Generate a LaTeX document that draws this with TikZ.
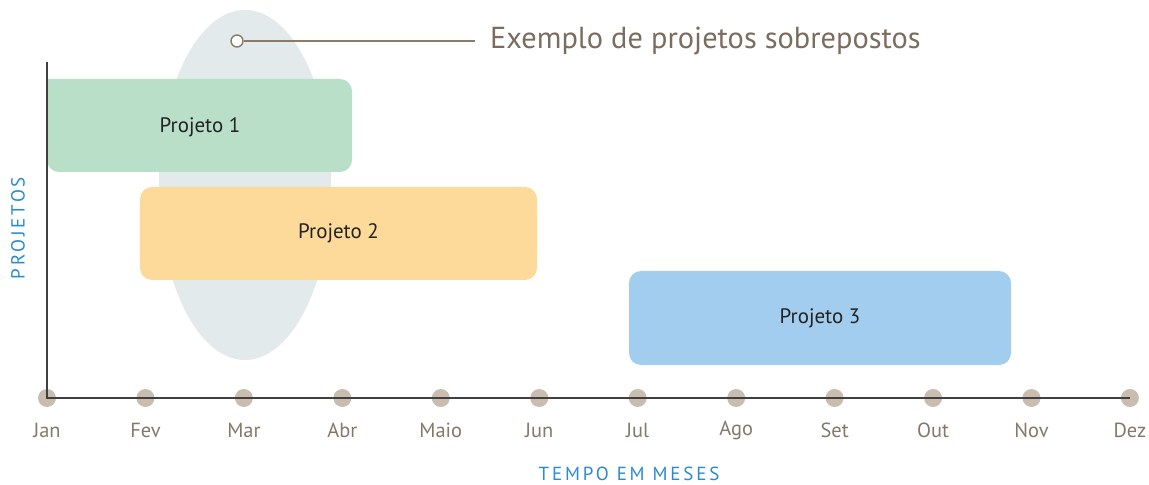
\documentclass[tikz,border=0pt]{standalone}
\usepackage{fontspec}
\setmainfont{PT Sans}
\definecolor{ellc}{HTML}{E2EAEC}
\definecolor{dotc}{HTML}{C9BDAF}
\definecolor{monthc}{HTML}{857868}
\definecolor{callc}{HTML}{8B7B6B}
\definecolor{titlec}{HTML}{7A6D5F}
\definecolor{p1c}{HTML}{B9DFC9}
\definecolor{p2c}{HTML}{FDD99A}
\definecolor{p3c}{HTML}{A3CDEE}
\definecolor{bluec}{HTML}{2B8AD0}
\definecolor{axisc}{HTML}{404040}
\definecolor{txtc}{HTML}{222222}
\begin{document}
\begin{tikzpicture}[x=1bp,y=-1bp,
  monthdot/.style={circle,fill=dotc,minimum size=18bp,inner sep=0pt},
  monthlbl/.style={text=monthc,font=\fontsize{20.5}{24}\selectfont,inner sep=0pt},
  projbox/.style={rounded corners=12bp,inner sep=0pt},
  projtxt/.style={text=txtc,font=\fontsize{21}{25}\selectfont,inner sep=0pt},
  axislbl/.style={text=bluec,font=\fontsize{19}{23}\selectfont\addfontfeatures{LetterSpace=15},inner sep=0pt}]
\useasboundingbox (0,0) rectangle (1149,485);
% highlight ellipse
\fill[ellc] (245,185) ellipse [x radius=86, y radius=175];
% projects
\node[projbox,fill=p2c,minimum width=397bp,minimum height=93bp] (p2) at (338.5,233.5) {};
\node[projtxt] (t2) at (p2.center) {Projeto 2};
\node[projbox,fill=p3c,minimum width=382bp,minimum height=94bp] (p3) at (820,318) {};
\node[projtxt] (t3) at (p3.center) {Projeto 3};
\fill[p1c,rounded corners=12bp] (47,79) -- (352,79) -- (352,172) -- (47,172) [sharp corners] -- cycle;
\node[projtxt] (t1) at (200,127) {Projeto 1};
% month dots and labels
\foreach \m [count=\i from 0] in {Jan,Fev,Mar,Abr,Maio,Jun,Jul,Ago,Set,Out,Nov,Dez}{
  \node[monthdot] (d\i) at ({47+\i*98.45},398) {};
  \node[monthlbl] (l\i) at ({47+\i*98.45},430) {\m};
}
% axes
\coordinate (top) at (47,62);
\draw[axisc,line width=1.6bp] (top) -- (d0.center) -- (d11.center);
% callout
\node[circle,draw=callc,line width=1.4bp,fill=white,minimum size=12bp,inner sep=0pt] (cc) at (237,41) {};
\node[anchor=west,text=titlec,font=\fontsize{30.5}{34}\selectfont,inner sep=0pt] (title) at (490,41) {Exemplo de projetos sobrepostos};
\coordinate (ce) at (475,41);
\draw[callc,line width=1.4bp] (cc.east) -- (ce);
% axis labels
\node[axislbl,rotate=90] (ylab) at (18,228) {PROJETOS};
\node[axislbl] (xlab) at (629,474) {TEMPO EM MESES};
\end{tikzpicture}
\end{document}
